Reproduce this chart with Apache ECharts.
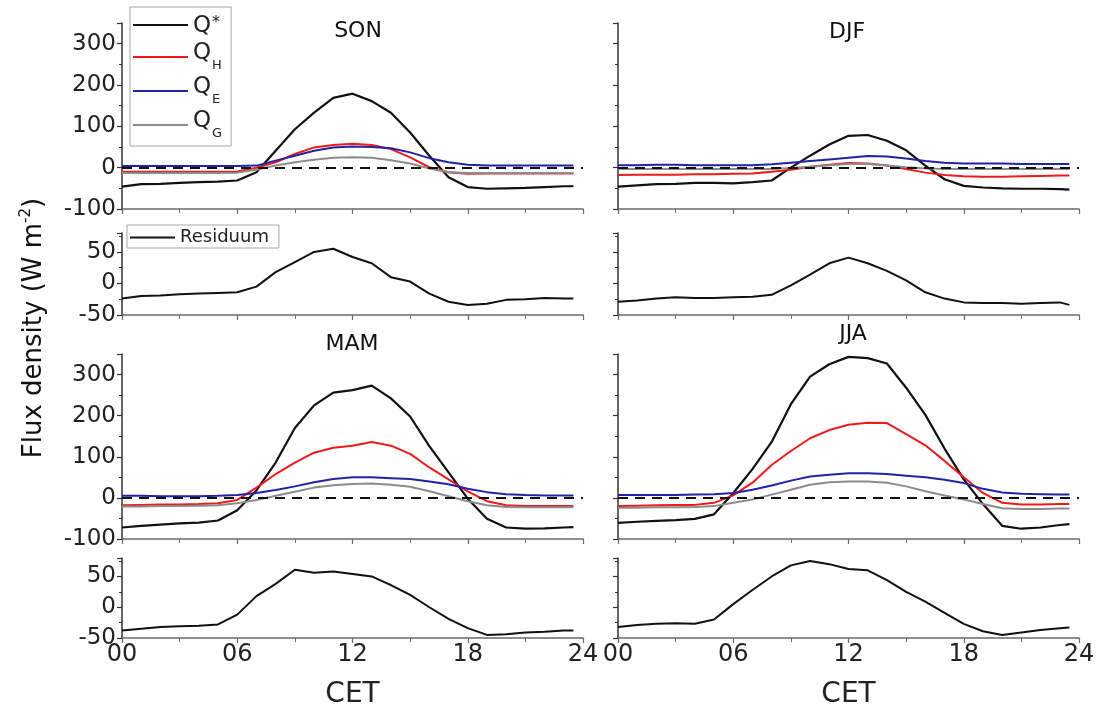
<!DOCTYPE html>
<html><head><meta charset="utf-8">
<script src="https://cdn.jsdelivr.net/npm/echarts@6/dist/echarts.min.js"></script>
<style>html,body{margin:0;padding:0;background:#fff}#c{width:1104px;height:710px}</style>
</head><body><div id="c"></div>
<script>
// ---- data (hour of day CET, W m-2) ----
const hours = [0,1,2,3,4,5,6,7,8,9,10,11,12,13,14,15,16,17,18,19,20,21,22,23,23.5];
const xTickLabels = ['00','06','12','18','24'];
const seasons = ['SON','DJF','MAM','JJA'];

const sonQstar = [-46,-40,-39,-37,-35,-34,-31,-11,41,93,133,169,179,161,133,85,29,-23,-47,-51,-50,-49,-47,-45,-45];
const sonQH    = [-10,-10,-10,-10,-10,-10,-9,0,13,33,49,55,58,55,45,25,1,-11,-15,-14,-14,-14,-14,-14,-14];
const sonQE    = [4,4,4,4,4,4,4,5,17,29,41,49,51,50,47,37,23,13,7,5,5,5,5,5,5];
const sonQG    = [-13,-13,-13,-13,-13,-13,-12,-5,5,13,19,24,25,24,18,10,-2,-11,-13,-13,-13,-13,-13,-13,-13];
const sonRes   = [-24,-20,-19,-17,-16,-15,-14,-5,18,34,50,55,42,32,10,3,-16,-29,-34,-32,-26,-25,-23,-24,-24];

const djfQstar = [-46,-43,-40,-39,-37,-37,-38,-35,-31,0,29,56,77,79,65,42,5,-28,-44,-48,-50,-51,-51,-52,-53];
const djfQH    = [-18,-17,-17,-17,-16,-16,-15,-14,-10,-5,2,7,11,10,5,-3,-12,-18,-21,-22,-22,-21,-20,-19,-19];
const djfQE    = [6,6,7,7,6,6,6,6,8,12,16,20,24,28,27,22,16,12,10,10,10,9,9,9,9];
const djfQG    = [-3,-3,-3,-3,-3,-3,-3,-3,-3,-1,2,6,9,9,5,1,-2,-3,-3,-3,-3,-3,-3,-3,-3];
const djfRes   = [-29,-27,-24,-22,-23,-23,-22,-21,-18,-3,14,32,41,32,20,5,-14,-24,-30,-31,-31,-32,-31,-30,-34];

const mamQstar = [-72,-68,-65,-62,-60,-55,-30,18,86,170,225,256,262,273,242,198,126,62,-2,-51,-72,-75,-74,-72,-71];
const mamQH    = [-18,-17,-16,-16,-15,-13,-5,25,58,86,110,122,127,136,127,107,74,45,16,-8,-18,-20,-20,-20,-20];
const mamQE    = [5,5,4,4,4,5,7,12,19,28,38,46,50,50,48,46,40,33,22,14,9,7,6,6,6];
const mamQG    = [-21,-21,-20,-20,-19,-18,-13,-5,5,15,25,31,34,35,32,27,16,4,-8,-18,-22,-23,-23,-23,-23];
const mamRes   = [-38,-35,-32,-31,-30,-28,-12,18,38,61,56,58,54,50,36,20,0,-19,-34,-45,-44,-41,-40,-38,-38];

const jjaQstar = [-61,-58,-56,-54,-51,-40,12,70,136,228,295,325,343,340,327,268,202,120,45,-15,-68,-75,-72,-66,-64];
const jjaQH    = [-20,-19,-18,-17,-17,-12,6,37,80,114,145,165,178,183,182,155,128,90,50,12,-12,-16,-16,-15,-15];
const jjaQE    = [7,7,7,7,8,9,12,20,30,42,52,56,60,60,58,54,50,44,36,22,13,10,9,8,8];
const jjaQG    = [-24,-24,-23,-23,-22,-20,-12,-4,8,20,32,38,40,40,37,28,16,6,-4,-15,-25,-27,-27,-26,-26];
const jjaRes   = [-32,-29,-27,-26,-27,-20,5,28,50,68,75,70,62,60,44,25,9,-9,-27,-39,-45,-41,-37,-34,-33];

const seasonData = [
  [sonQstar, sonQH, sonQE, sonQG, sonRes],
  [djfQstar, djfQH, djfQE, djfQG, djfRes],
  [mamQstar, mamQH, mamQE, mamQG, mamRes],
  [jjaQstar, jjaQH, jjaQE, jjaQG, jjaRes]
];
const compNames = ['Q*','QH','QE','QG'];

// ---- styling / layout ----
const FONT = '"DejaVu Sans", "Liberation Sans", Arial, sans-serif';
const colors = ['#111111','#ee1a1a','#2222a6','#8c8c8c'];
const colLeft = [122, 618];
const plotW = 461;
const rowMainTop = [23, 354], rowMainH = [186, 185];
const rowResTop = [233, 558], rowResH = [82, 81];
const titlePos = [[358,31],[847,32],[352,344],[853,334]];

const grids = [], xAxes = [], yAxes = [], series = [], graphics = [];

function xAxisCfg(gi, showLabels) {
  return {
    type:'value', gridIndex:gi, min:0, max:24, interval:6,
    axisLine:{show:true, onZero:false, lineStyle:{color:'#6a6a6a', width:1.5}},
    axisTick:{show:true, inside:false, length:5, lineStyle:{color:'#6a6a6a', width:1.2}},
    minorTick:{show:true, splitNumber:2, length:4, lineStyle:{color:'#6a6a6a', width:1}},
    splitLine:{show:false}, minorSplitLine:{show:false},
    axisLabel:{show:showLabels, margin:5, fontSize:24, fontFamily:FONT, color:'#222',
      formatter: v => xTickLabels[Math.round(v/6)]},
    name: showLabels ? 'CET' : '', nameLocation:'middle', nameGap:43,
    nameTextStyle:{fontSize:28, fontFamily:FONT, color:'#222'}
  };
}
function yAxisCfg(gi, isMain, showLabels) {
  return {
    type:'value', gridIndex:gi,
    min: isMain ? -100 : -50, max: isMain ? 350 : 80, interval: isMain ? 100 : 50,
    axisLine:{show:true, onZero:false, lineStyle:{color:'#333', width:1.5}},
    axisTick:{show:true, inside:false, length:5, lineStyle:{color:'#333', width:1.2}},
    minorTick:{show:true, splitNumber:2, length:3, lineStyle:{color:'#333', width:1}},
    splitLine:{show:false}, minorSplitLine:{show:false},
    axisLabel:{show:showLabels, showMaxLabel:false, margin:6, fontSize:23, fontFamily:FONT, color:'#222'}
  };
}

seasons.forEach((s, k) => {
  const col = k % 2, row = Math.floor(k / 2);
  const gMain = grids.length;
  grids.push({left:colLeft[col], top:rowMainTop[row], width:plotW, height:rowMainH[row], containLabel:false});
  const gRes = grids.length;
  grids.push({left:colLeft[col], top:rowResTop[row], width:plotW, height:rowResH[row], containLabel:false});
  xAxes.push(xAxisCfg(gMain, false));
  xAxes.push(xAxisCfg(gRes, row === 1));
  yAxes.push(yAxisCfg(gMain, true, col === 0));
  yAxes.push(yAxisCfg(gRes, false, col === 0));

  const d = seasonData[k];
  compNames.forEach((nm, c) => {
    const ser = {
      type:'line', name:nm, xAxisIndex:gMain, yAxisIndex:gMain,
      data: hours.map((h, i) => [h, d[c][i]]),
      symbol:'none', showSymbol:false, silent:true, animation:false,
      lineStyle:{color:colors[c], width: c === 0 ? 2.2 : 2},
      itemStyle:{color:colors[c]}, z: 3 + (c === 0 ? 0 : 1)
    };
    if (c === 0) {
      ser.markLine = {
        silent:true, symbol:['none','none'], animation:false,
        label:{show:false},
        lineStyle:{color:'#111', width:2, type:[10,7]},
        data:[{yAxis:0}]
      };
    }
    series.push(ser);
  });
  series.push({
    type:'line', name:'Residuum', xAxisIndex:gRes, yAxisIndex:gRes,
    data: hours.map((h, i) => [h, d[4][i]]),
    symbol:'none', showSymbol:false, silent:true, animation:false,
    lineStyle:{color:'#111', width:2}, itemStyle:{color:'#111'}
  });
  graphics.push({type:'text', x:titlePos[k][0], y:titlePos[k][1], silent:true,
    style:{text:s, fontSize:22, fontFamily:FONT, fill:'#111', align:'center', verticalAlign:'middle'}});
});

graphics.push({
  type:'text', x:34, y:328, rotation:Math.PI/2, silent:true,
  style:{
    text:'{a|Flux density (W m}{b|-2}{a|)}',
    align:'center', verticalAlign:'middle', fill:'#111',
    rich:{
      a:{fontSize:26, fontFamily:FONT, fill:'#111', lineHeight:30},
      b:{fontSize:15, fontFamily:FONT, fill:'#111', lineHeight:14, verticalAlign:'top'}
    }
  }
});

const legendFmt = {
  'Q*':'{q0|Q}{sup|*}', 'QH':'{q|Q}{sub|H}', 'QE':'{q|Q}{sub|E}', 'QG':'{q|Q}{sub|G}'
};

const option = {
  animation:false,
  backgroundColor:'#fff',
  grid:grids, xAxis:xAxes, yAxis:yAxes, series:series, graphic:graphics,
  legend:[
    {
      data:compNames, orient:'vertical', left:130, top:7,
      padding:[8,9,6,3], itemGap:4, itemWidth:55, itemHeight:2, icon:'rect',
      borderColor:'#a8a8a8', borderWidth:1, selectedMode:false,
      formatter: n => legendFmt[n],
      textStyle:{fontFamily:FONT, color:'#222', rich:{
        q0:{fontSize:23, fontFamily:FONT, lineHeight:20, verticalAlign:'top'},
        sup:{fontSize:16, fontFamily:FONT, lineHeight:12, verticalAlign:'top', padding:[0,0,0,1]},
        q:{fontSize:23, fontFamily:FONT, lineHeight:30, verticalAlign:'top'},
        sub:{fontSize:13, fontFamily:FONT, lineHeight:10, verticalAlign:'top', padding:[17,0,0,1]}
      }}
    },
    {
      data:['Residuum'], orient:'vertical', left:127, top:225,
      padding:[3,10,1,3], itemWidth:45, itemHeight:2, icon:'rect',
      borderColor:'#a8a8a8', borderWidth:1, selectedMode:false,
      textStyle:{fontFamily:FONT, fontSize:18, color:'#222', lineHeight:19}
    }
  ]
};

const chart = echarts.init(document.getElementById('c'), null, {renderer:'canvas'});
chart.setOption(option);
</script>
</body></html>
